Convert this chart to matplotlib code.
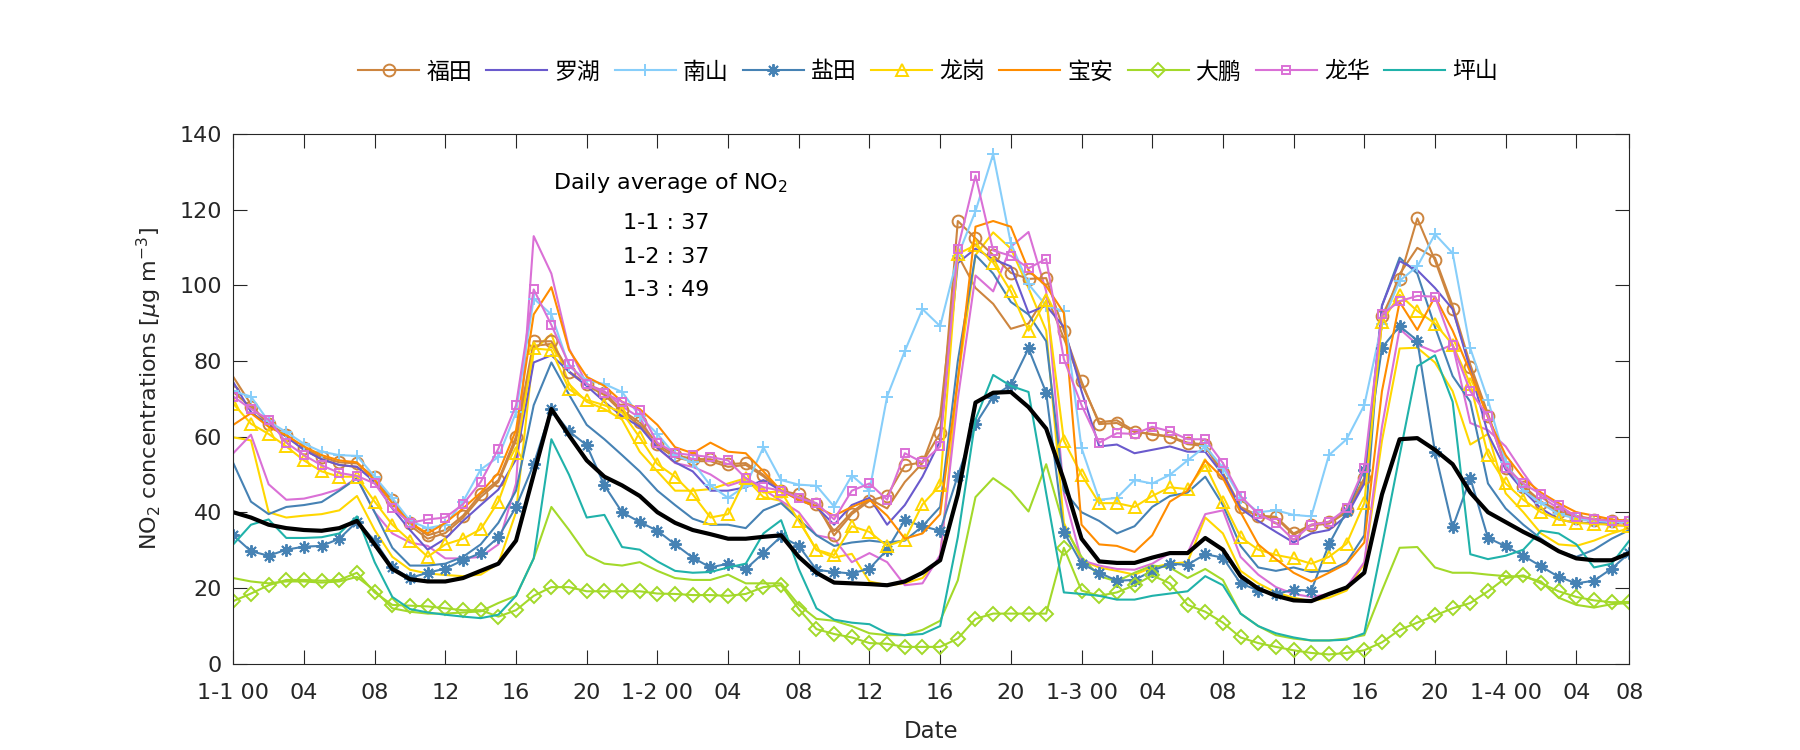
import numpy as np
import matplotlib
matplotlib.use("Agg")
import matplotlib.pyplot as plt

plt.rcParams['font.family'] = ['DejaVu Sans', 'Noto Sans CJK SC']
plt.rcParams['mathtext.fontset'] = 'dejavusans'

# hourly NO2, 1-1 00 .. 1-4 07 (80 points)
futian = [71.8, 67.8, 63.4, 60.5, 57.0, 54.6, 53.2, 52.9, 49.2, 43.3, 37.2, 33.9, 35.3, 39.1, 44.8,
          48.5, 60.0, 85.2, 85.2, 77.2, 73.9, 71.6, 66.9, 63.8, 58.1, 55.1, 54.1, 54.0, 52.7,
          53.0, 49.9, 45.7, 44.7, 42.2, 33.9, 39.5, 43.0, 44.4, 52.4, 53.2, 60.9, 117.0, 112.4,
          108.0, 103.3, 101.7, 101.9, 88.0, 74.6, 63.3, 63.6, 61.2, 60.7, 60.0, 58.4, 57.9, 50.4,
          41.4, 39.1, 38.8, 34.4, 36.7, 37.5, 40.5, 49.0, 91.8, 101.7, 117.7, 106.6, 93.7,
          78.4, 65.4, 51.8, 46.6, 42.4, 40.0, 38.6, 37.9, 37.7, 37.5]
luohu = [74.4, 66.5, 63.0, 60.0, 56.5, 54.0, 52.5, 52.0, 48.0, 41.0, 35.3, 30.1, 33.0, 37.7, 41.9,
         46.0, 54.0, 79.6, 81.5, 77.2, 73.4, 69.2, 65.4, 62.6, 57.0, 53.2, 50.8, 45.7, 45.7,
         46.6, 48.5, 45.7, 43.3, 41.4, 36.7, 41.9, 43.8, 36.7, 41.9, 49.4, 58.9, 105.9, 109.7,
         106.9, 105.0, 92.7, 94.6, 89.0, 72.0, 57.4, 57.9, 55.6, 56.5, 57.4, 56.0, 56.0, 49.9,
         41.0, 37.7, 34.8, 32.0, 34.4, 35.3, 39.1, 47.6, 94.6, 106.4, 104.0, 99.3, 93.7,
         77.7, 60.7, 51.3, 45.7, 41.0, 38.1, 37.2, 37.2, 37.2, 37.4]
nanshan = [72.0, 70.6, 64.0, 61.2, 58.1, 56.0, 55.1, 54.9, 49.4, 43.8, 37.7, 35.8, 36.7, 42.8, 51.3,
           54.6, 66.4, 96.5, 92.3, 78.6, 74.9, 73.9, 71.8, 65.4, 60.7, 55.1, 53.2, 47.1, 43.8,
           47.0, 57.2, 48.5, 47.3, 47.0, 41.5, 49.7, 45.7, 70.6, 82.6, 93.7, 89.2, 107.8, 119.6,
           134.7, 111.1, 100.3, 94.6, 93.2, 57.0, 43.3, 43.8, 48.5, 47.6, 49.9, 53.7, 57.4, 51.8,
           43.8, 40.0, 40.5, 39.3, 38.9, 55.1, 59.3, 68.3, 89.9, 101.2, 105.0, 113.5, 108.5,
           83.3, 69.7, 53.2, 45.7, 42.4, 39.5, 38.3, 37.7, 37.4, 37.4]
yantian = [33.9, 29.7, 28.5, 30.1, 30.9, 31.1, 33.0, 37.5, 32.5, 25.4, 22.6, 24.0, 25.1, 27.3, 29.2,
           33.4, 41.4, 52.7, 67.3, 61.4, 57.7, 47.1, 40.0, 37.4, 35.1, 31.5, 28.0, 25.4, 26.4,
           25.0, 29.2, 33.6, 31.1, 24.8, 24.2, 23.8, 25.1, 30.1, 37.9, 36.3, 35.1, 49.7, 63.3,
           70.6, 73.7, 83.3, 71.6, 34.8, 26.4, 24.0, 21.9, 22.1, 24.5, 26.4, 26.1, 28.9, 28.0,
           21.2, 19.3, 18.4, 19.5, 19.3, 31.5, 40.2, 51.3, 83.5, 89.2, 85.4, 56.0, 36.0,
           49.0, 33.2, 31.0, 28.5, 25.7, 22.9, 21.2, 21.9, 25.1, 29.2]
longgang = [68.7, 63.4, 60.7, 57.4, 53.7, 50.8, 49.4, 49.4, 42.8, 36.7, 32.5, 28.2, 31.5, 33.0, 35.5,
            42.8, 55.6, 83.3, 82.9, 72.5, 69.7, 68.3, 66.4, 59.8, 52.7, 49.4, 44.7, 38.6, 39.5,
            49.0, 45.2, 45.5, 37.7, 30.1, 28.7, 36.3, 34.8, 31.1, 32.7, 42.1, 47.1, 108.3, 110.6,
            106.0, 98.4, 88.0, 96.0, 58.9, 49.9, 42.4, 42.4, 41.4, 44.3, 46.6, 46.1, 52.5, 42.8,
            33.4, 30.1, 28.7, 27.8, 26.4, 28.2, 31.7, 42.4, 90.4, 97.5, 93.2, 89.9, 84.3,
            73.9, 55.1, 47.6, 43.3, 40.0, 38.1, 37.2, 36.9, 36.7, 36.3]
baoan = [63.1, 66.2, 62.6, 60.3, 57.4, 55.1, 53.7, 53.2, 48.5, 42.4, 37.2, 34.4, 37.2, 41.0, 45.2,
         50.4, 61.7, 92.3, 99.5, 82.9, 75.8, 73.4, 69.2, 67.3, 63.1, 57.2, 55.6, 58.4, 56.0,
         55.6, 50.8, 45.7, 43.3, 41.4, 39.1, 41.4, 43.3, 39.1, 33.0, 34.4, 39.5, 75.0, 115.5,
         117.0, 115.5, 104.0, 99.8, 92.7, 36.7, 31.5, 31.1, 29.5, 33.9, 42.8, 45.7, 53.7, 49.0,
         40.0, 31.5, 27.6, 24.0, 21.7, 24.0, 26.4, 32.0, 72.0, 95.6, 88.2, 97.0, 88.0,
         77.0, 65.0, 55.1, 49.0, 45.2, 42.4, 40.0, 39.1, 38.1, 37.7]
dapeng = [16.5, 18.5, 20.7, 22.1, 22.1, 21.9, 22.1, 24.0, 18.8, 15.5, 15.3, 15.1, 14.6, 14.1, 14.1,
          12.4, 14.1, 17.9, 20.2, 20.2, 19.1, 19.1, 19.1, 19.1, 18.5, 18.4, 18.1, 18.1, 17.9,
          18.4, 20.2, 20.7, 14.4, 9.1, 7.8, 6.9, 5.4, 5.2, 4.4, 4.4, 4.4, 6.6, 11.8,
          13.2, 13.2, 13.2, 13.2, 30.6, 19.3, 17.9, 18.8, 20.7, 23.3, 21.2, 15.5, 13.7, 10.8,
          6.9, 5.4, 4.4, 3.5, 2.8, 2.4, 2.8, 3.5, 5.6, 8.9, 10.8, 12.7, 14.6,
          16.0, 19.1, 22.6, 23.3, 21.2, 19.1, 17.6, 16.7, 16.2, 16.3]
longhua = [70.6, 67.3, 64.5, 58.4, 55.1, 52.4, 50.4, 49.6, 47.6, 41.1, 37.2, 38.1, 38.6, 42.1, 48.0,
           56.8, 68.3, 98.9, 89.5, 79.1, 73.9, 71.6, 69.2, 66.9, 58.4, 55.6, 55.1, 54.6, 53.7,
           49.0, 46.6, 45.7, 43.8, 42.4, 38.1, 45.7, 47.6, 43.3, 55.6, 53.2, 57.4, 109.7, 129.0,
           109.2, 107.8, 104.5, 107.0, 80.5, 68.3, 58.4, 60.9, 60.7, 62.6, 61.4, 59.3, 59.3, 53.0,
           44.3, 39.5, 37.2, 32.7, 36.7, 37.4, 41.0, 51.8, 92.3, 95.8, 97.2, 97.0, 84.1,
           72.0, 65.4, 51.8, 47.6, 44.7, 41.9, 38.8, 38.1, 37.7, 37.7]
pingshan = [31.5, 36.7, 38.1, 33.2, 33.2, 33.4, 34.4, 38.9, 26.8, 17.6, 14.4, 13.5, 12.9, 12.4, 12.0,
            12.9, 17.9, 27.8, 59.3, 49.9, 38.6, 39.3, 30.8, 30.1, 27.0, 24.5, 24.0, 24.2, 25.4,
            26.4, 34.4, 37.9, 25.0, 14.6, 11.6, 10.8, 10.4, 8.0, 7.5, 7.8, 9.9, 33.4, 64.5,
            76.3, 73.4, 71.8, 45.0, 18.8, 18.4, 17.9, 16.9, 16.9, 17.9, 18.5, 19.1, 23.1, 20.7,
            13.2, 9.9, 8.0, 6.9, 6.1, 6.1, 6.3, 8.0, 31.1, 55.0, 78.6, 81.5, 69.2,
            28.9, 27.6, 28.5, 30.1, 35.1, 34.4, 31.5, 25.4, 26.4, 32.5]
city_mean = [40.0, 38.6, 36.7, 35.8, 35.3, 35.1, 35.8, 37.7, 31.5, 25.0, 22.3, 21.7, 21.7, 22.6, 24.5,
             26.4, 32.5, 50.0, 67.3, 60.3, 53.7, 49.4, 47.1, 44.3, 40.0, 37.2, 35.3, 34.2, 33.0,
             33.0, 33.5, 33.9, 28.2, 24.0, 21.4, 21.2, 21.0, 20.7, 21.7, 24.0, 27.3, 44.7, 69.0,
             71.6, 71.8, 67.8, 62.1, 48.5, 33.0, 27.0, 26.6, 26.6, 28.0, 29.2, 29.2, 33.2, 30.1,
             23.1, 19.8, 17.9, 16.7, 16.5, 18.4, 20.1, 24.0, 44.7, 59.3, 59.6, 56.5, 52.7,
             45.2, 40.0, 37.4, 34.8, 32.5, 29.7, 27.8, 27.3, 27.3, 29.2]

# other stations, drawn without markers and not in the legend
extra_peru = [75.8, 68.5, 63.0, 60.0, 56.5, 54.0, 52.5, 52.0, 48.5, 42.5, 36.5, 33.0, 34.5, 38.5, 44.0,
              48.0, 59.0, 84.0, 84.5, 77.0, 73.5, 71.0, 66.5, 63.0, 57.5, 54.5, 53.5, 53.5, 52.0,
              52.5, 49.5, 45.5, 44.0, 41.5, 35.0, 40.0, 43.5, 41.0, 48.0, 53.0, 65.4, 108.0, 99.3,
              95.1, 88.5, 89.9, 97.5, 86.0, 74.0, 63.8, 64.3, 61.5, 60.5, 60.0, 58.0, 57.5, 50.0,
              41.0, 39.0, 38.5, 34.0, 36.5, 37.0, 40.0, 48.0, 90.0, 103.0, 109.9, 107.3, 94.6,
              79.0, 66.0, 52.5, 47.0, 42.8, 40.5, 39.0, 38.2, 37.9, 37.8]
extra_gold = [59.8, 59.0, 40.0, 38.6, 39.1, 39.5, 40.5, 44.3, 35.3, 28.2, 24.8, 23.8, 23.4, 23.1, 23.5,
              26.4, 40.0, 82.9, 87.1, 73.9, 69.2, 67.3, 64.5, 56.0, 50.8, 45.7, 45.7, 46.1, 47.6,
              49.0, 44.0, 43.0, 38.0, 30.0, 28.0, 29.0, 21.7, 20.7, 21.2, 22.6, 27.8, 75.0, 108.0,
              114.0, 109.7, 99.3, 88.0, 37.2, 27.3, 25.4, 24.5, 23.5, 25.4, 26.4, 26.8, 38.6, 34.4,
              24.5, 21.2, 18.8, 17.4, 16.5, 17.4, 19.3, 26.4, 58.9, 83.3, 83.5, 79.6, 72.0,
              57.9, 60.7, 45.0, 40.0, 34.4, 31.5, 31.1, 32.5, 34.4, 35.8]
extra_orchid = [55.6, 60.5, 47.4, 43.3, 43.6, 44.7, 46.1, 49.0, 40.0, 34.4, 32.0, 31.1, 27.8, 27.8, 28.2,
                31.5, 47.6, 113.0, 103.1, 83.3, 73.9, 72.0, 68.0, 65.0, 57.0, 53.0, 52.0, 50.0, 47.0,
                48.5, 46.0, 43.0, 40.0, 33.9, 33.0, 26.8, 29.2, 26.8, 20.7, 21.2, 28.7, 70.0, 102.6,
                98.4, 110.2, 114.1, 98.4, 45.0, 27.3, 25.9, 25.0, 24.8, 26.4, 29.2, 29.2, 39.5, 40.5,
                28.2, 23.5, 20.2, 18.4, 17.6, 18.4, 20.2, 26.8, 62.6, 88.5, 84.3, 82.4, 84.3,
                63.6, 61.7, 57.4, 50.4, 44.0, 41.0, 38.5, 37.5, 36.5, 36.5]
extra_steel = [53.0, 42.8, 39.5, 41.4, 41.9, 42.7, 45.7, 49.0, 40.0, 30.6, 25.9, 25.9, 26.4, 28.2, 31.5,
               37.2, 45.7, 68.3, 79.6, 71.1, 63.1, 59.3, 55.1, 50.8, 45.7, 41.9, 38.3, 36.7, 36.7,
               35.8, 40.5, 42.4, 38.1, 33.9, 31.1, 32.0, 32.5, 32.0, 32.5, 36.3, 41.4, 80.0, 108.0,
               103.1, 95.6, 92.3, 85.2, 45.7, 40.0, 37.7, 34.4, 36.3, 41.4, 44.3, 45.2, 49.4, 41.9,
               31.1, 25.4, 24.5, 25.4, 24.2, 24.5, 26.8, 33.9, 94.6, 107.3, 103.1, 89.0, 76.0,
               69.2, 47.6, 41.0, 36.7, 33.0, 29.7, 28.2, 30.1, 33.0, 35.3]
extra_ygreen = [22.6, 21.7, 21.2, 21.7, 21.7, 21.4, 21.7, 22.9, 19.3, 14.6, 13.7, 13.2, 13.2, 13.5, 13.8,
                16.0, 17.9, 27.8, 41.4, 35.3, 28.7, 26.4, 25.9, 26.8, 24.5, 22.6, 22.1, 22.1, 23.5,
                21.2, 21.2, 21.2, 15.5, 11.8, 11.3, 9.9, 8.0, 7.5, 7.5, 8.9, 11.3, 22.0, 44.0,
                49.0, 45.7, 40.2, 52.7, 36.3, 28.2, 23.1, 21.7, 24.0, 25.9, 25.4, 22.6, 25.0, 22.1,
                13.2, 9.9, 7.5, 6.6, 6.1, 6.1, 6.6, 7.5, 19.3, 30.6, 30.8, 25.4, 24.0,
                24.0, 23.5, 23.1, 23.0, 21.7, 17.4, 15.5, 14.8, 15.7, 16.0]

districts = ['福田', '罗湖', '南山', '盐田', '龙岗', '宝安', '大鹏', '龙华', '坪山']
daily_avg = [('1-1', 37), ('1-2', 37), ('1-3', 49)]
tick_pos = list(range(0, 80, 4)) + [79]
tick_labels = ['1-1 00', '04', '08', '12', '16', '20', '1-2 00', '04', '08', '12', '16', '20',
               '1-3 00', '04', '08', '12', '16', '20', '1-4 00', '04', '08']

hours = np.arange(len(futian))
asterisk = (8, 2, 0)
lime = '#A3D92A'

main = [(futian, '#CD853F', 'o', 8.5), (luohu, '#6A5ACD', None, 0), (nanshan, '#87CEFA', '+', 9),
        (yantian, '#4682B4', asterisk, 9), (longgang, '#FFD700', '^', 9), (baoan, '#FF8C00', None, 0),
        (dapeng, lime, 'D', 7.5), (longhua, '#DA70D6', 's', 6), (pingshan, '#20B2AA', None, 0)]
extras = [(extra_peru, '#CD853F'), (extra_gold, '#FFD700'), (extra_orchid, '#DA70D6'),
          (extra_steel, '#4682B4'), (extra_ygreen, lime)]

fig = plt.figure(figsize=(18, 7.5), dpi=100)
ax = fig.add_axes([0.1296, 0.1153, 0.7756, 0.706])

for vals, c in extras:
    ax.plot(hours, vals, color=c, lw=1.5)

handles = []
for (vals, c, m, ms), name in zip(main, districts):
    h, = ax.plot(hours, vals, color=c, lw=1.5, marker=m, ms=ms, mfc='none',
                 mew=1.4, label=name)
    handles.append(h)

ax.plot(hours, city_mean, color='k', lw=3.0)

ax.set_xlim(0, 79)
ax.set_ylim(0, 140)
ax.set_yticks(range(0, 141, 20))
ax.set_xticks(tick_pos)
ax.set_xticklabels(tick_labels)
ax.tick_params(direction='in', top=True, right=True, length=10, width=0.8,
               labelsize=16, colors='#262626')
ax.tick_params(axis='x', pad=14)
ax.tick_params(axis='y', pad=8)
for s in ax.spines.values():
    s.set_linewidth(0.8)
    s.set_color('#262626')

ax.set_xlabel('Date', fontsize=16.5, color='#262626')
ax.set_ylabel('NO$_2$ concentrations [$\\mu$g m$^{-3}$]', fontsize=16, color='#262626')
ax.xaxis.set_label_coords(0.5, -0.1275)
ax.xaxis.label.set_va('center')
ax.yaxis.set_label_coords(-0.0604, 0.52)
ax.yaxis.label.set_va('center')

ax.text(18.08, 127.0, 'Daily average of NO$_2$', fontsize=16, ha='left', va='center')
for i, (d, v) in enumerate(daily_avg):
    ax.text(22.04, 116.4 - 8.8 * i, f'{d} : {v}', fontsize=16, ha='left', va='center')

fig.legend(handles=handles, loc='center', bbox_to_anchor=(0.5156, 0.904), ncol=9,
           frameon=False, fontsize=16.5, handlelength=2.66, handletextpad=0.32,
           columnspacing=0.62)

fig.savefig('out.png', dpi=100)
